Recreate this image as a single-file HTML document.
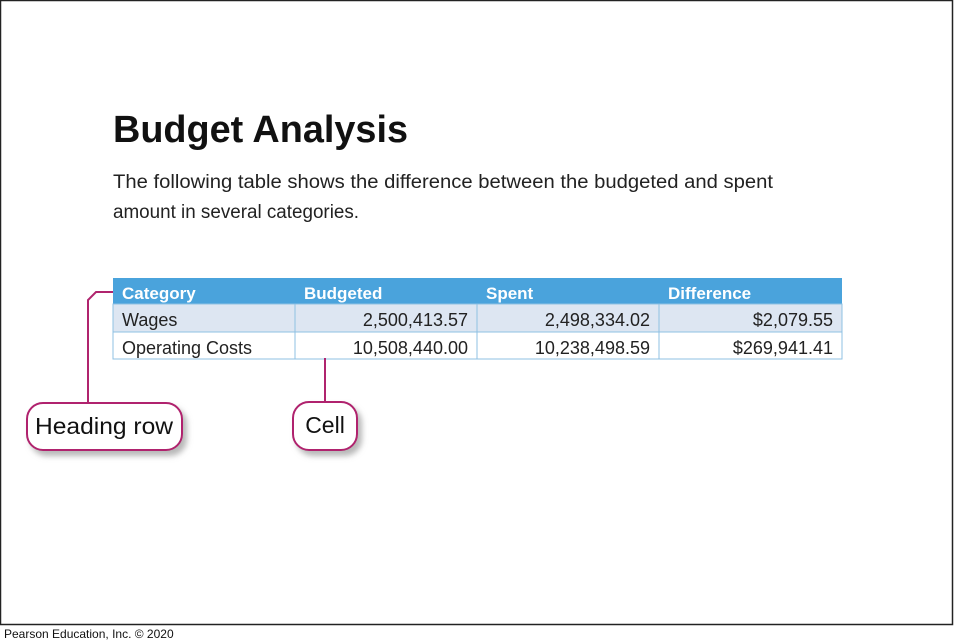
<!DOCTYPE html>
<html><head><meta charset="utf-8"><style>
html,body{margin:0;padding:0;background:#fff;}
svg{display:block;font-family:"Liberation Sans",sans-serif;}
</style></head><body>
<svg width="954" height="644" viewBox="0 0 954 644">
<defs><filter id="sh" x="-20%" y="-20%" width="150%" height="160%"><feDropShadow dx="4" dy="5" stdDeviation="3" flood-color="#888" flood-opacity="0.6"/></filter></defs>
<rect x="0.5" y="0.5" width="952" height="624" fill="#fff" stroke="#222" stroke-width="1.5"/>
<text x="113" y="142" font-size="38" font-weight="bold" textLength="295" lengthAdjust="spacingAndGlyphs" fill="#111">Budget Analysis</text>
<text x="113" y="188" font-size="19" textLength="660" lengthAdjust="spacingAndGlyphs" fill="#222">The following table shows the difference between the budgeted and spent</text>
<text x="113" y="218" font-size="19" textLength="246" lengthAdjust="spacingAndGlyphs" fill="#222">amount in several categories.</text>
<g id="tbl"></g>
<g>
<polyline points="113,292 96,292 88,300 88,404" fill="none" stroke="#b0246e" stroke-width="2"/>
<rect x="27" y="403" width="155" height="47" rx="16" fill="#fff" stroke="#b0246e" stroke-width="2" filter="url(#sh)"/>
<text x="104" y="434" font-size="23" text-anchor="middle" fill="#111" textLength="138" lengthAdjust="spacingAndGlyphs">Heading row</text>
</g>
<g>
<line x1="325" y1="358" x2="325" y2="403" stroke="#b0246e" stroke-width="2"/>
<rect x="293" y="402" width="64" height="48" rx="16" fill="#fff" stroke="#b0246e" stroke-width="2" filter="url(#sh)"/>
<text x="325" y="433" font-size="23" text-anchor="middle" fill="#111">Cell</text>
</g>
<text x="4" y="638" font-size="12" fill="#111">Pearson Education, Inc. © 2020</text>
</svg>
<script>
const headers=["Category","Budgeted","Spent","Difference"];
const categories=["Wages","Operating Costs"];
const budgeted=["2,500,413.57","10,508,440.00"];
const spent=["2,498,334.02","10,238,498.59"];
const difference=["$2,079.55","$269,941.41"];
const ns="http://www.w3.org/2000/svg";
const g=document.getElementById('tbl');
const colX=[113,295,477,659,842];
const rowY=[278,304,332,359];
function mk(t,a){const e=document.createElementNS(ns,t);for(const k in a)e.setAttribute(k,a[k]);g.appendChild(e);return e;}
let hr=mk('rect',{x:113,y:278,width:729,height:26,fill:'#4aa3dc'});


let r1=mk('rect',{x:113,y:304,width:729,height:28,fill:'#dde6f2',stroke:'#8fc1e3','stroke-width':1});


let r2=mk('rect',{x:113,y:332,width:729,height:27,fill:'#fff',stroke:'#8fc1e3','stroke-width':1});


for(let i=1;i<4;i++){let l=mk('line',{x1:colX[i],y1:304,x2:colX[i],y2:359,stroke:'#8fc1e3','stroke-width':1});

}
headers.forEach((h,i)=>{let t=mk('text',{x:colX[i]+9,y:299,'font-size':17,'font-weight':'bold',fill:'#fff'});t.textContent=h;

});
const cols=[budgeted,spent,difference];
categories.forEach((c,r)=>{
 const y=rowY[r+1]+22;
 let t=mk('text',{x:122,y:y,'font-size':18,fill:'#222'});t.textContent=c;
 
 
 cols.forEach((arr,j)=>{let v=mk('text',{x:colX[j+2]-9,y:y,'font-size':18,fill:'#222','text-anchor':'end'});v.textContent=arr[r];
 
 });
});
</script>
</body></html>
